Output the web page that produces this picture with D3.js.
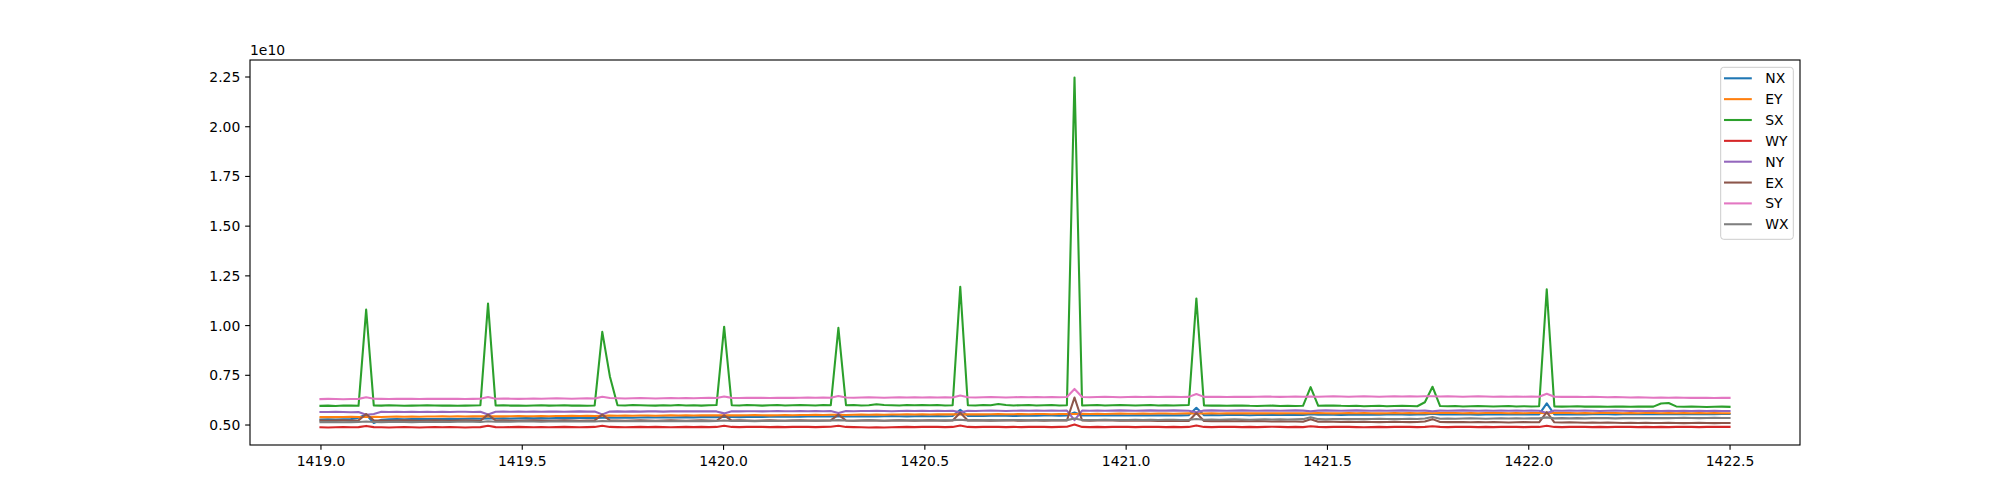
<!DOCTYPE html>
<html>
<head>
<meta charset="utf-8">
<script src="https://cdn.jsdelivr.net/npm/d3@7"></script>
<style>
    body { margin: 0; background: #fff; }
    text { font-family: "DejaVu Sans", sans-serif; }
</style>
</head>
<body>
<script>
// values are in units of 1e10, one per sample from 1419.0 to 1422.5
var xStart = 1419.0;
var xEnd = 1422.5;

var NX = [
    0.525,0.526,0.525,0.526,0.527,0.534,0.550,0.508,0.524,0.526,0.527,0.526,0.527,0.528,0.527,0.528,
    0.528,0.529,0.528,0.529,0.530,0.529,0.531,0.530,0.531,0.530,0.531,0.532,0.531,0.532,0.531,0.532,
    0.533,0.532,0.533,0.534,0.533,0.534,0.535,0.534,0.535,0.534,0.535,0.536,0.535,0.536,0.535,0.536,
    0.537,0.536,0.537,0.538,0.537,0.539,0.538,0.537,0.538,0.539,0.538,0.539,0.540,0.539,0.540,0.539,
    0.540,0.541,0.540,0.541,0.542,0.541,0.540,0.541,0.542,0.541,0.542,0.543,0.542,0.541,0.542,0.543,
    0.542,0.543,0.542,0.543,0.574,0.543,0.544,0.543,0.544,0.545,0.544,0.543,0.544,0.545,0.544,0.545,
    0.545,0.544,0.545,0.560,0.545,0.546,0.545,0.546,0.547,0.546,0.545,0.546,0.547,0.546,0.547,0.546,
    0.547,0.546,0.547,0.584,0.547,0.548,0.547,0.548,0.549,0.548,0.547,0.548,0.549,0.548,0.549,0.548,
    0.549,0.548,0.552,0.549,0.550,0.549,0.548,0.549,0.550,0.549,0.550,0.549,0.550,0.551,0.550,0.549,
    0.550,0.551,0.554,0.550,0.551,0.550,0.551,0.550,0.549,0.550,0.551,0.550,0.551,0.550,0.551,0.550,
    0.551,0.606,0.551,0.552,0.551,0.552,0.551,0.552,0.553,0.552,0.551,0.552,0.553,0.552,0.553,0.552,
    0.553,0.552,0.553,0.552,0.553,0.552,0.553,0.552,0.553,0.553
];
var EY = [
    0.537,0.538,0.537,0.538,0.539,0.538,0.538,0.539,0.538,0.539,0.540,0.539,0.540,0.539,0.540,0.540,
    0.541,0.540,0.541,0.540,0.541,0.542,0.541,0.542,0.541,0.542,0.543,0.542,0.542,0.543,0.542,0.543,
    0.543,0.544,0.543,0.544,0.543,0.544,0.545,0.544,0.545,0.544,0.545,0.545,0.544,0.545,0.546,0.545,
    0.546,0.545,0.546,0.547,0.546,0.546,0.547,0.546,0.547,0.548,0.547,0.546,0.547,0.548,0.547,0.548,
    0.548,0.549,0.548,0.549,0.549,0.548,0.549,0.550,0.549,0.550,0.549,0.550,0.550,0.551,0.550,0.551,
    0.550,0.551,0.551,0.552,0.551,0.551,0.552,0.551,0.552,0.553,0.552,0.552,0.553,0.552,0.553,0.553,
    0.552,0.553,0.553,0.553,0.554,0.553,0.554,0.553,0.554,0.555,0.554,0.554,0.555,0.554,0.555,0.555,
    0.554,0.555,0.556,0.555,0.555,0.556,0.555,0.556,0.557,0.556,0.556,0.557,0.556,0.557,0.556,0.557,
    0.557,0.556,0.557,0.558,0.557,0.556,0.557,0.558,0.557,0.558,0.557,0.556,0.557,0.558,0.557,0.558,
    0.557,0.558,0.557,0.558,0.559,0.558,0.557,0.558,0.557,0.558,0.559,0.558,0.557,0.558,0.557,0.558,
    0.558,0.557,0.558,0.559,0.558,0.557,0.558,0.557,0.558,0.559,0.558,0.557,0.558,0.557,0.558,0.558,
    0.557,0.558,0.557,0.558,0.557,0.558,0.557,0.558,0.557,0.557
];
var SX = [
    0.594,0.595,0.593,0.596,0.595,0.594,1.078,0.596,0.595,0.597,0.596,0.594,0.595,0.596,0.597,0.596,
    0.595,0.596,0.594,0.595,0.596,0.597,1.108,0.596,0.597,0.595,0.596,0.594,0.596,0.597,0.595,0.596,
    0.597,0.595,0.596,0.594,0.596,0.966,0.742,0.597,0.596,0.598,0.597,0.596,0.595,0.597,0.596,0.598,
    0.596,0.597,0.595,0.597,0.598,0.992,0.597,0.596,0.598,0.597,0.595,0.597,0.598,0.596,0.597,0.598,
    0.597,0.596,0.598,0.597,0.986,0.597,0.598,0.596,0.597,0.602,0.598,0.597,0.596,0.598,0.597,0.598,
    0.597,0.598,0.596,0.597,1.192,0.597,0.596,0.598,0.597,0.603,0.598,0.596,0.597,0.598,0.596,0.597,
    0.598,0.596,0.597,2.245,0.596,0.597,0.598,0.596,0.597,0.598,0.597,0.596,0.597,0.598,0.596,0.597,
    0.596,0.597,0.598,1.134,0.596,0.595,0.596,0.594,0.595,0.596,0.594,0.593,0.594,0.595,0.593,0.594,
    0.593,0.594,0.688,0.594,0.595,0.596,0.594,0.593,0.594,0.592,0.593,0.594,0.592,0.593,0.594,0.593,
    0.592,0.612,0.690,0.593,0.592,0.593,0.591,0.592,0.593,0.592,0.591,0.592,0.593,0.591,0.592,0.591,
    0.592,1.180,0.591,0.590,0.591,0.592,0.590,0.591,0.590,0.589,0.590,0.591,0.589,0.590,0.591,0.590,
    0.606,0.608,0.591,0.589,0.590,0.589,0.588,0.589,0.590,0.589
];
var WY = [
    0.486,0.485,0.486,0.487,0.486,0.487,0.493,0.487,0.486,0.485,0.486,0.487,0.486,0.485,0.486,0.487,
    0.486,0.487,0.486,0.485,0.486,0.487,0.494,0.487,0.486,0.487,0.488,0.487,0.486,0.487,0.486,0.487,
    0.488,0.487,0.486,0.487,0.488,0.494,0.488,0.487,0.486,0.487,0.488,0.487,0.488,0.487,0.486,0.487,
    0.488,0.487,0.488,0.487,0.488,0.494,0.488,0.487,0.488,0.489,0.488,0.487,0.488,0.487,0.488,0.489,
    0.488,0.487,0.488,0.489,0.494,0.488,0.487,0.486,0.485,0.486,0.485,0.486,0.487,0.488,0.487,0.488,
    0.489,0.488,0.487,0.488,0.495,0.488,0.487,0.488,0.489,0.488,0.487,0.488,0.487,0.488,0.489,0.488,
    0.487,0.488,0.489,0.500,0.488,0.487,0.488,0.487,0.488,0.489,0.488,0.487,0.488,0.489,0.488,0.487,
    0.488,0.487,0.488,0.495,0.488,0.487,0.488,0.489,0.488,0.487,0.488,0.487,0.488,0.489,0.488,0.487,
    0.488,0.487,0.491,0.488,0.487,0.488,0.489,0.488,0.487,0.486,0.487,0.488,0.487,0.488,0.489,0.488,
    0.487,0.488,0.491,0.488,0.487,0.488,0.489,0.488,0.487,0.488,0.487,0.488,0.489,0.488,0.487,0.488,
    0.488,0.494,0.488,0.487,0.488,0.489,0.488,0.487,0.488,0.487,0.488,0.489,0.488,0.487,0.488,0.487,
    0.488,0.487,0.488,0.489,0.488,0.487,0.488,0.489,0.488,0.488
];
var NY = [
    0.563,0.563,0.564,0.563,0.562,0.563,0.549,0.553,0.564,0.563,0.564,0.563,0.564,0.563,0.564,0.563,
    0.564,0.563,0.564,0.564,0.563,0.564,0.550,0.564,0.565,0.564,0.565,0.564,0.565,0.564,0.565,0.565,
    0.564,0.565,0.566,0.565,0.565,0.551,0.565,0.566,0.565,0.566,0.565,0.566,0.566,0.565,0.566,0.566,
    0.567,0.566,0.566,0.567,0.566,0.556,0.567,0.566,0.567,0.567,0.566,0.567,0.568,0.567,0.567,0.568,
    0.567,0.568,0.567,0.568,0.558,0.568,0.567,0.568,0.568,0.569,0.568,0.567,0.568,0.569,0.568,0.569,
    0.568,0.569,0.568,0.569,0.561,0.569,0.568,0.569,0.570,0.569,0.568,0.569,0.570,0.569,0.570,0.569,
    0.570,0.569,0.570,0.522,0.570,0.569,0.570,0.569,0.570,0.571,0.570,0.569,0.570,0.571,0.570,0.570,
    0.571,0.570,0.569,0.562,0.570,0.571,0.570,0.569,0.570,0.571,0.570,0.569,0.570,0.570,0.569,0.570,
    0.571,0.570,0.567,0.570,0.571,0.570,0.569,0.570,0.571,0.570,0.569,0.570,0.569,0.570,0.571,0.570,
    0.569,0.570,0.567,0.570,0.569,0.570,0.571,0.570,0.569,0.570,0.569,0.570,0.569,0.570,0.569,0.570,
    0.569,0.558,0.570,0.569,0.570,0.569,0.570,0.569,0.568,0.569,0.570,0.569,0.568,0.569,0.568,0.569,
    0.568,0.569,0.568,0.569,0.568,0.569,0.568,0.569,0.568,0.568
];
var EX = [
    0.520,0.519,0.520,0.521,0.520,0.521,0.553,0.521,0.520,0.519,0.520,0.521,0.520,0.519,0.520,0.521,
    0.520,0.519,0.520,0.521,0.520,0.519,0.550,0.520,0.521,0.520,0.519,0.520,0.521,0.520,0.519,0.520,
    0.521,0.520,0.519,0.520,0.521,0.550,0.521,0.520,0.519,0.520,0.521,0.520,0.519,0.520,0.521,0.520,
    0.519,0.520,0.521,0.520,0.519,0.546,0.520,0.521,0.520,0.519,0.520,0.521,0.520,0.519,0.520,0.521,
    0.520,0.519,0.520,0.521,0.550,0.520,0.519,0.520,0.521,0.520,0.519,0.520,0.521,0.520,0.519,0.520,
    0.521,0.520,0.519,0.520,0.559,0.520,0.521,0.520,0.519,0.520,0.521,0.520,0.519,0.520,0.520,0.519,
    0.520,0.521,0.520,0.636,0.520,0.519,0.520,0.521,0.520,0.519,0.520,0.519,0.520,0.519,0.518,0.519,
    0.518,0.519,0.518,0.558,0.518,0.517,0.518,0.517,0.516,0.517,0.516,0.517,0.516,0.515,0.516,0.515,
    0.515,0.514,0.527,0.514,0.515,0.514,0.513,0.514,0.513,0.514,0.513,0.512,0.513,0.514,0.513,0.512,
    0.513,0.515,0.527,0.513,0.512,0.513,0.512,0.511,0.512,0.511,0.512,0.511,0.510,0.511,0.512,0.511,
    0.511,0.562,0.511,0.510,0.511,0.510,0.509,0.510,0.509,0.510,0.509,0.508,0.509,0.508,0.509,0.508,
    0.508,0.509,0.508,0.507,0.508,0.509,0.508,0.507,0.508,0.508
];
var SY = [
    0.628,0.629,0.628,0.627,0.628,0.629,0.637,0.630,0.629,0.628,0.629,0.630,0.629,0.628,0.629,0.630,
    0.629,0.630,0.629,0.628,0.629,0.630,0.638,0.630,0.631,0.630,0.629,0.630,0.631,0.630,0.631,0.632,
    0.631,0.630,0.631,0.632,0.631,0.640,0.633,0.632,0.631,0.632,0.633,0.632,0.631,0.632,0.633,0.632,
    0.633,0.632,0.633,0.634,0.633,0.641,0.634,0.633,0.634,0.635,0.634,0.633,0.634,0.635,0.634,0.635,
    0.636,0.635,0.636,0.635,0.643,0.636,0.635,0.636,0.637,0.636,0.635,0.636,0.637,0.636,0.637,0.636,
    0.637,0.636,0.637,0.636,0.646,0.637,0.636,0.637,0.638,0.637,0.636,0.637,0.638,0.637,0.638,0.637,
    0.638,0.637,0.638,0.679,0.638,0.637,0.638,0.639,0.638,0.637,0.638,0.639,0.638,0.639,0.638,0.639,
    0.639,0.638,0.639,0.653,0.639,0.640,0.639,0.638,0.639,0.640,0.639,0.640,0.641,0.640,0.639,0.640,
    0.641,0.640,0.641,0.640,0.641,0.642,0.641,0.640,0.641,0.642,0.641,0.640,0.641,0.642,0.641,0.642,
    0.641,0.642,0.642,0.641,0.642,0.641,0.640,0.641,0.642,0.641,0.640,0.641,0.640,0.641,0.640,0.641,
    0.640,0.655,0.640,0.639,0.640,0.639,0.638,0.639,0.638,0.637,0.638,0.637,0.636,0.637,0.636,0.635,
    0.636,0.635,0.636,0.635,0.634,0.635,0.634,0.633,0.634,0.634
];
var WX = [
    0.512,0.513,0.512,0.511,0.512,0.513,0.515,0.513,0.512,0.513,0.514,0.513,0.512,0.513,0.514,0.513,
    0.514,0.513,0.514,0.515,0.514,0.513,0.516,0.514,0.515,0.514,0.515,0.516,0.515,0.514,0.515,0.516,
    0.515,0.516,0.515,0.516,0.515,0.518,0.516,0.517,0.516,0.517,0.516,0.517,0.518,0.517,0.516,0.517,
    0.518,0.517,0.518,0.517,0.518,0.520,0.518,0.519,0.518,0.517,0.518,0.519,0.518,0.519,0.520,0.519,
    0.519,0.520,0.519,0.520,0.522,0.520,0.519,0.520,0.521,0.520,0.519,0.520,0.521,0.520,0.521,0.520,
    0.521,0.520,0.521,0.522,0.524,0.521,0.522,0.521,0.522,0.521,0.522,0.523,0.522,0.521,0.522,0.523,
    0.522,0.523,0.522,0.530,0.523,0.522,0.523,0.524,0.523,0.522,0.523,0.524,0.523,0.524,0.523,0.524,
    0.524,0.523,0.524,0.528,0.524,0.525,0.524,0.525,0.526,0.525,0.524,0.525,0.526,0.525,0.526,0.525,
    0.526,0.527,0.536,0.527,0.526,0.527,0.528,0.527,0.528,0.527,0.528,0.529,0.528,0.527,0.528,0.529,
    0.528,0.530,0.538,0.529,0.530,0.529,0.530,0.531,0.530,0.529,0.530,0.531,0.530,0.531,0.530,0.531,
    0.531,0.536,0.531,0.532,0.531,0.532,0.531,0.532,0.533,0.532,0.531,0.532,0.533,0.532,0.533,0.532,
    0.533,0.532,0.533,0.534,0.533,0.532,0.533,0.534,0.533,0.533
];

var names = ['NX', 'EY', 'SX', 'WY', 'NY', 'EX', 'SY', 'WX'];
var seriesValues = [NX, EY, SX, WY, NY, EX, SY, WX];
var colors = ['#1f77b4', '#ff7f0e', '#2ca02c', '#d62728', '#9467bd', '#8c564b', '#e377c2', '#7f7f7f'];

var xTicks = [1419.0, 1419.5, 1420.0, 1420.5, 1421.0, 1421.5, 1422.0, 1422.5];
var yTicks = [0.50, 0.75, 1.00, 1.25, 1.50, 1.75, 2.00, 2.25];
var offsetLabel = '1e10';

class LineChart {
    constructor(svg) {
        this.svg = svg;
    }

    draw() {
        var width = 2000;
        var height = 500;
        var left = 250, right = 1800, top = 60, bottom = 445;
        var fs = 13.9;
        var tick = 4.86;

        var n = SX.length;
        var xs = seriesValues[0].map((v, i) => xStart + i * (xEnd - xStart) / (n - 1));

        // matplotlib style 5% margins
        var xPad = (xEnd - xStart) * 0.05;
        var all = [].concat(...seriesValues);
        var ext = d3.extent(all);
        var yPad = (ext[1] - ext[0]) * 0.05;

        var x = d3.scaleLinear()
            .domain([xStart - xPad, xEnd + xPad])
            .range([left, right]);
        var y = d3.scaleLinear()
            .domain([ext[0] - yPad, ext[1] + yPad])
            .range([bottom, top]);

        this.svg.append('rect')
            .attr('width', width).attr('height', height)
            .attr('fill', '#fff');

        //lines
        var line = d3.line()
            .x((d, i) => x(xs[i]))
            .y(d => y(d));

        var plot = this.svg.append('g')
            .attr('clip-path', 'url(#clip)');
        this.svg.append('clipPath').attr('id', 'clip')
            .append('rect')
            .attr('x', left).attr('y', top)
            .attr('width', right - left).attr('height', bottom - top);

        plot.selectAll('path')
            .data(seriesValues).enter()
            .append('path')
            .attr('d', d => line(d))
            .attr('fill', 'none')
            .attr('stroke', (d, i) => colors[i])
            .attr('stroke-width', 2.08)
            .attr('stroke-linejoin', 'round')
            .attr('stroke-linecap', 'square');

        //axisx
        var axisx = d3.axisBottom(x)
            .tickValues(xTicks)
            .tickFormat(d3.format('.1f'))
            .tickSizeInner(tick)
            .tickSizeOuter(0)
            .tickPadding(tick);
        var gx = this.svg.append('g')
            .attr('transform', `translate(0,${bottom})`)
            .call(axisx);
        gx.select('.domain').remove();
        gx.selectAll('line').attr('stroke', '#000').attr('stroke-width', 1.11);
        gx.selectAll('text')
            .attr('font-size', fs)
            .attr('fill', '#000')
            .attr('font-family', 'DejaVu Sans')
            .attr('dy', null)
            .attr('y', 21);

        //axisy
        var axisy = d3.axisLeft(y)
            .tickValues(yTicks)
            .tickFormat(d3.format('.2f'))
            .tickSizeInner(tick)
            .tickSizeOuter(0)
            .tickPadding(tick);
        var gy = this.svg.append('g')
            .attr('transform', `translate(${left},0)`)
            .call(axisy);
        gy.select('.domain').remove();
        gy.selectAll('line').attr('stroke', '#000').attr('stroke-width', 1.11);
        gy.selectAll('text')
            .attr('font-size', fs)
            .attr('fill', '#000')
            .attr('font-family', 'DejaVu Sans')
            .attr('dy', null)
            .attr('y', 5);

        // frame
        this.svg.append('rect')
            .attr('x', left).attr('y', top)
            .attr('width', right - left).attr('height', bottom - top)
            .attr('fill', 'none')
            .attr('stroke', '#000')
            .attr('stroke-width', 1.11);

        this.svg.append('text')
            .attr('x', left).attr('y', top - 5)
            .attr('font-size', fs)
            .text(offsetLabel);

        //legend
        var lgW = 72.6, lgH = 172;
        var lgX = right - 6.7 - lgW, lgY = top + 7.3;
        var legend = this.svg.append('g')
            .attr('transform', `translate(${lgX},${lgY})`);
        legend.append('rect')
            .attr('width', lgW).attr('height', lgH)
            .attr('rx', 3)
            .attr('fill', '#fff').attr('fill-opacity', 0.8)
            .attr('stroke', '#cccccc').attr('stroke-width', 1);
        var item = legend.selectAll('g.item')
            .data(names).enter()
            .append('g')
            .attr('class', 'item')
            .attr('transform', (d, i) => `translate(0,${11 + i * 20.85})`);
        item.append('line')
            .attr('x1', 3.3).attr('x2', 31.1)
            .attr('stroke', (d, i) => colors[i])
            .attr('stroke-width', 2.08);
        item.append('text')
            .attr('x', 44.6)
            .attr('y', 5)
            .attr('font-size', fs)
            .text(d => d);
    }
}

var svg = d3.select('body')
    .append('svg')
    .attr('width', 2000)
    .attr('height', 500);
new LineChart(svg).draw();
</script>
</body>
</html>
